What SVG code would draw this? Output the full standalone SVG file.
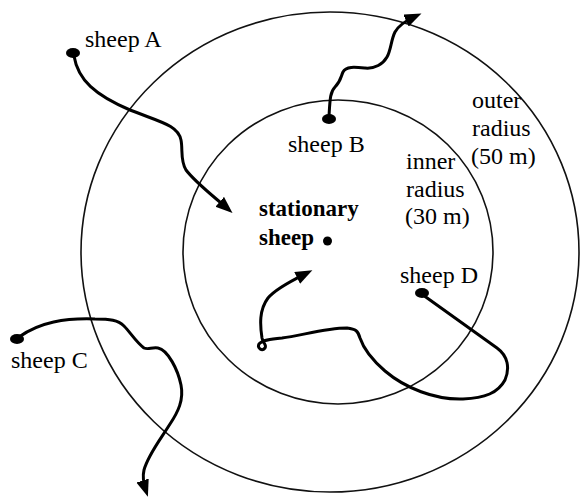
<svg xmlns="http://www.w3.org/2000/svg" width="580" height="498" viewBox="0 0 580 498">
  <style>
    .ring { fill: none; stroke: #111; stroke-width: 1.6; }
    .track { fill: none; stroke: #000; stroke-width: 3; stroke-linecap: round; stroke-linejoin: round; }
    .dot { fill: #000; }
    .lbl { font-family: "Liberation Serif", "Times New Roman", serif; font-size: 24px; fill: #000; }
    .bold { font-weight: bold; font-size: 23px; }
  </style>
  <defs>
    <marker id="arrow" markerUnits="userSpaceOnUse" markerWidth="18" markerHeight="14" refX="11" refY="6.5" orient="auto">
      <path d="M0,0 L17,6.5 L0,13 z" fill="#000"/>
    </marker>
  </defs>

  <rect width="580" height="498" fill="#fff"/>

  <!-- radius zones around the stationary sheep -->
  <g id="zones">
    <ellipse class="ring" cx="330" cy="252" rx="249" ry="240"/>
    <ellipse class="ring" cx="338" cy="252" rx="155" ry="152"/>
  </g>

  <!-- movement tracks -->
  <g id="connectors">
    <path class="track" marker-end="url(#arrow)" d="M74,56 C78,80 95,95 130,110 C160,122 178,125 181,140 C183,150 180,160 186,170 C195,182 212,195 228,209"/>
    <path class="track" marker-end="url(#arrow)" d="M329,116 C330,100 330,92 335,87 C341,81 341,76 343,72 C346,66 355,67 365,68 C375,69 383,64 387,57 C391,50 391,40 395,32 C399,25 405,21 416,16"/>
    <path class="track" marker-end="url(#arrow)" d="M19,337 C40,322 65,318 95,319 C110,319 118,320 124,326 C130,332 136,342 144,348 C148,350 152,347 158,348 C168,350 178,370 181,385 C184,400 178,412 170,424 C160,440 148,455 144,470 C142,478 144,485 146,491"/>
    <path class="track" marker-end="url(#arrow)" d="M423,295 L497,348 C508,356 510,368 505,380 C498,393 485,398 463,399 C435,400 405,388 385,371 C370,358 363,347 360,338 C358,331 356,329 347,328 C325,328 300,336 282,338 C270,339 262,340 259,344 C257,348 262,352 265,348 C267,345 263,343 262,338 C260,325 259,310 268,298 C276,288 295,279 307,273"/>
  </g>

  <g id="sheep-a">
    <ellipse class="dot" cx="73" cy="53" rx="7" ry="5"/>
    <text class="lbl" x="85" y="47">sheep A</text>
  </g>

  <g id="sheep-b">
    <ellipse class="dot" cx="329" cy="119" rx="7" ry="5"/>
    <text class="lbl" x="288" y="152">sheep B</text>
  </g>

  <g id="sheep-c">
    <ellipse class="dot" cx="17" cy="339" rx="7" ry="5"/>
    <text class="lbl" x="11" y="368">sheep C</text>
  </g>

  <g id="sheep-d">
    <ellipse class="dot" cx="422" cy="293" rx="7" ry="5"/>
    <text class="lbl" x="400" y="283">sheep D</text>
  </g>

  <g id="stationary-sheep">
    <circle class="dot" cx="327.5" cy="241" r="4.5"/>
    <text class="lbl bold" x="259" y="216">stationary</text>
    <text class="lbl bold" x="259" y="245">sheep</text>
  </g>

  <g id="outer-radius-label">
    <text class="lbl" x="472" y="108">outer</text>
    <text class="lbl" x="472" y="136">radius</text>
    <text class="lbl" x="471" y="164">(50 m)</text>
  </g>

  <g id="inner-radius-label">
    <text class="lbl" x="406" y="169">inner</text>
    <text class="lbl" x="406" y="197">radius</text>
    <text class="lbl" x="405" y="224">(30 m)</text>
  </g>
</svg>
